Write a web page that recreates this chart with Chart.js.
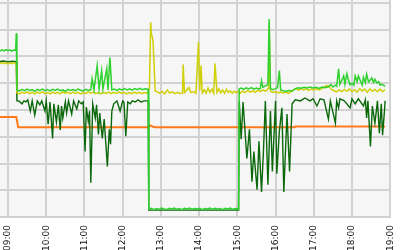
<!DOCTYPE html>
<html><head><meta charset="utf-8">
<script src="https://cdn.jsdelivr.net/npm/chart.js@4/dist/chart.umd.min.js"></script>
<style>html,body{margin:0;padding:0;background:#fff;overflow:hidden;width:400px;height:250px}canvas{display:block}</style>
</head><body>
<canvas id="c" width="409" height="259"></canvas>
<script>
const tickLabels = ["09:00","10:00","11:00","12:00","13:00","14:00","15:00","16:00","17:00","18:00","19:00"];
const axisStart = "08:47";
const axisEnd = "19:00";

const limePoints = [
["08:47",62.0],["08:51",62.5],["08:54",62.1],["08:57",62.6],["09:00",62.2],["09:03",62.5],["09:06",62.0],["09:09",62.4],["09:12",62.3],["09:13",68.7],
["09:14",47.5],["09:18",47.1],["09:22",47.7],["09:26",47.2],["09:30",47.8],["09:34",47.3],["09:38",47.6],["09:42",47.0],["09:46",47.7],["09:50",47.3],
["09:54",47.8],["09:58",47.2],["10:02",47.6],["10:06",47.1],["10:10",47.7],["10:14",47.3],["10:18",47.8],["10:22",47.2],["10:26",47.5],["10:30",47.0],
["10:34",47.7],["10:38",47.3],["10:42",47.6],["10:46",47.2],["10:50",47.8],["10:54",47.4],["10:58",47.1],["11:02",47.7],["11:06",47.3],["11:10",47.6],
["11:12",51.7],["11:15",47.5],["11:20",56.6],["11:23",47.9],["11:27",54.7],["11:29",47.9],["11:35",55.5],["11:37",47.5],["11:40",59.6],["11:43",47.5],
["11:47",47.8],["11:51",47.3],["11:55",47.9],["11:59",47.4],["12:03",48.0],["12:07",47.5],["12:11",47.9],["12:15",47.4],["12:19",48.0],["12:23",47.6],
["12:27",48.1],["12:31",47.6],["12:35",47.9],["12:40",47.8],["12:41",3.0],["12:45",3.3],["12:49",2.8],["12:53",3.2],["12:57",2.9],["13:01",3.4],
["13:05",3.0],["13:09",2.8],["13:13",3.3],["13:17",3.0],["13:21",3.4],["13:25",2.9],["13:29",3.2],["13:33",2.8],["13:37",3.3],["13:41",3.0],
["13:45",3.4],["13:49",2.9],["13:53",3.2],["13:57",3.0],["14:01",3.3],["14:05",2.8],["14:09",3.2],["14:13",3.0],["14:17",3.4],["14:21",2.9],
["14:25",3.3],["14:29",3.0],["14:33",3.2],["14:37",2.8],["14:41",3.3],["14:45",3.0],["14:49",3.4],["14:53",2.9],["14:57",3.2],["15:02",3.0],
["15:03",47.9],["15:06",48.2],["15:10",47.7],["15:14",48.3],["15:18",47.9],["15:22",48.4],["15:26",47.8],["15:30",48.2],["15:34",47.9],["15:36",48.0],
["15:38",50.9],["15:40",48.5],["15:44",49.0],["15:48",49.5],["15:50",74.0],["15:52",48.0],["15:55",47.6],["15:59",47.9],["16:03",48.3],["16:06",54.7],
["16:08",47.5],["16:12",47.2],["16:17",47.0],["16:21",47.3],["16:26",47.1],["16:31",48.0],["16:35",48.3],["16:40",48.1],["16:45",48.5],["16:50",48.2],
["16:54",48.6],["16:59",48.2],["17:04",48.5],["17:08",48.1],["17:13",48.6],["17:18",48.3],["17:23",48.7],["17:27",49.5],["17:30",48.6],["17:34",49.3],
["17:36",48.9],["17:39",55.4],["17:41",49.6],["17:44",51.0],["17:47",52.8],["17:49",49.6],["17:52",53.6],["17:54",51.6],["17:57",49.4],["18:00",50.0],
["18:03",49.3],["18:05",52.8],["18:08",50.6],["18:10",52.8],["18:13",51.0],["18:16",49.3],["18:18",52.2],["18:21",50.2],["18:23",53.4],["18:26",50.5],
["18:29",51.2],["18:31",52.0],["18:34",50.3],["18:36",51.5],["18:39",50.1],["18:42",50.6],["18:44",49.3],["18:47",49.6],["18:51",49.0],["18:52",49.2]
];

const yellowPoints = [
["08:47",57.4],["08:51",57.7],["08:54",57.3],["08:57",57.6],["09:00",57.2],["09:03",57.6],["09:06",57.3],["09:09",57.7],["09:12",57.4],["09:13",57.3],
["09:14",46.4],["09:18",46.0],["09:22",46.7],["09:26",46.2],["09:30",46.8],["09:34",46.1],["09:38",46.6],["09:42",46.0],["09:46",46.7],["09:50",46.3],
["09:54",46.8],["09:58",46.1],["10:02",46.5],["10:06",46.0],["10:10",46.7],["10:14",46.2],["10:18",46.6],["10:22",46.0],["10:26",46.8],["10:30",46.3],
["10:34",46.6],["10:38",46.1],["10:42",46.7],["10:46",46.2],["10:50",46.6],["10:54",46.0],["10:58",46.5],["11:02",46.2],["11:06",46.8],["11:10",46.3],
["11:14",46.7],["11:18",46.1],["11:22",46.5],["11:26",46.0],["11:30",46.6],["11:34",46.2],["11:38",46.7],["11:42",46.1],["11:46",46.6],["11:50",46.2],
["11:54",46.8],["11:58",46.3],["12:02",46.6],["12:06",46.0],["12:10",46.5],["12:14",46.1],["12:18",46.7],["12:22",46.2],["12:26",46.6],["12:30",46.1],
["12:34",46.5],["12:38",46.3],["12:42",47.9],["12:44",72.8],["12:45",68.7],["12:47",66.8],["12:48",64.2],["12:51",47.2],["12:54",46.8],["12:58",46.3],
["13:02",46.9],["13:06",46.0],["13:10",47.5],["13:14",46.3],["13:18",46.8],["13:22",46.1],["13:26",46.6],["13:30",46.2],["13:34",46.4],["13:35",57.0],
["13:37",46.5],["13:41",47.6],["13:44",48.4],["13:47",46.5],["13:51",46.9],["13:55",46.2],["13:59",65.4],["14:01",47.2],["14:03",56.6],["14:05",46.4],
["14:08",47.6],["14:11",46.3],["14:14",48.2],["14:17",46.5],["14:20",47.8],["14:23",46.3],["14:25",57.4],["14:28",46.6],["14:31",47.9],["14:34",46.4],
["14:37",47.5],["14:40",46.2],["14:43",47.7],["14:46",46.6],["14:49",47.2],["14:52",46.3],["14:55",47.0],["14:58",46.5],["15:01",46.9],["15:04",46.2],
["15:08",47.0],["15:12",46.5],["15:16",47.3],["15:20",46.7],["15:24",47.2],["15:28",46.6],["15:32",47.4],["15:36",46.9],["15:40",47.5],["15:44",47.0],
["15:47",47.6],["15:49",48.0],["15:50",71.7],["15:52",47.0],["15:56",46.6],["16:00",46.9],["16:04",46.4],["16:08",46.8],["16:12",46.3],["16:16",46.7],
["16:20",46.2],["16:24",46.8],["16:28",47.5],["16:32",47.9],["16:36",47.4],["16:40",48.0],["16:44",47.5],["16:48",47.9],["16:52",47.3],["16:56",47.8],
["17:00",47.4],["17:04",48.0],["17:08",47.5],["17:12",47.9],["17:16",48.5],["17:20",49.1],["17:24",48.9],["17:28",47.6],["17:32",47.2],["17:36",46.8],
["17:40",47.5],["17:44",46.9],["17:48",47.7],["17:52",47.0],["17:56",47.9],["18:00",46.8],["18:04",47.6],["18:08",46.7],["18:12",48.0],["18:16",47.1],
["18:20",47.8],["18:24",46.6],["18:28",47.9],["18:32",47.0],["18:36",47.7],["18:40",46.8],["18:44",47.8],["18:48",46.9],["18:52",47.6]
];

const darkPoints = [
["08:47",58.1],["08:53",58.3],["09:00",58.0],["09:06",58.2],["09:13",58.1],["09:14",43.4],["09:17",43.4],["09:22",42.3],["09:25",43.4],["09:28",43.0],
["09:31",43.8],["09:35",39.6],["09:38",43.4],["09:42",38.1],["09:46",43.4],["09:50",41.9],["09:53",43.4],["09:58",39.6],["10:00",43.4],["10:03",34.7],
["10:06",43.0],["10:10",29.4],["10:12",42.3],["10:16",35.5],["10:19",41.9],["10:22",32.5],["10:24",41.5],["10:26",37.0],["10:30",43.0],["10:32",38.9],
["10:35",43.4],["10:40",38.5],["10:43",43.4],["10:48",40.4],["10:51",43.4],["10:55",42.3],["10:58",43.0],["11:01",24.5],["11:03",41.1],["11:06",35.8],
["11:08",39.6],["11:10",12.8],["11:13",42.3],["11:17",37.0],["11:19",41.9],["11:22",30.9],["11:24",38.9],["11:28",29.4],["11:31",36.6],["11:36",18.9],
["11:39",32.8],["11:41",27.2],["11:43",39.6],["11:46",42.3],["11:51",43.4],["11:56",39.6],["12:00",43.4],["12:02",43.0],["12:05",30.2],["12:08",43.0],
["12:12",42.3],["12:15",43.4],["12:20",43.0],["12:24",43.8],["12:29",43.0],["12:34",43.4],["12:40",43.4],["12:41",2.6],["13:30",2.6],["14:20",2.6],
["15:02",2.6],["15:03",43.4],["15:06",29.1],["15:09",43.0],["15:15",21.9],["15:19",32.8],["15:23",13.2],["15:26",24.5],["15:31",10.2],["15:34",28.3],
["15:38",9.4],["15:41",24.5],["15:44",43.4],["15:48",12.1],["15:52",39.6],["15:55",17.0],["16:00",43.4],["16:02",16.2],["16:06",32.1],["16:10",40.8],
["16:13",9.4],["16:18",38.5],["16:22",17.0],["16:26",42.3],["16:31",43.8],["16:39",43.4],["16:46",44.5],["16:54",43.4],["16:59",44.2],["17:05",41.5],
["17:10",44.2],["17:16",43.8],["17:23",36.6],["17:26",43.4],["17:34",35.1],["17:36",43.4],["17:39",40.8],["17:41",44.2],["17:48",43.4],["17:57",40.8],
["18:00",44.2],["18:05",42.3],["18:10",44.2],["18:18",41.5],["18:21",43.8],["18:23",37.0],["18:25",43.4],["18:29",26.4],["18:32",41.5],["18:36",35.1],
["18:40",43.4],["18:43",31.3],["18:46",42.3],["18:48",30.6],["18:51",39.6],["18:52",43.4]
];

const orangePoints = [
["08:47",37.4],["09:13",37.4],["09:16",33.6],["12:40",33.6],["12:43",34.2],["12:47",33.8],["12:51",33.6],["16:30",33.6],["16:31",33.8],["18:52",33.8]
];

function toHours(s){const p=s.split(':').map(Number);return p[0]+p[1]/60;}
function pts(a){return a.map(d=>({x:toHours(d[0]),y:d[1]}));}
const tickValues = tickLabels.map(toHours);

const bgPlugin = {
  id:'bg',
  beforeDraw(chart){
    const {ctx,chartArea:a}=chart;
    ctx.save();ctx.fillStyle='#f6f6f6';ctx.fillRect(a.left,a.top,a.right-a.left,a.bottom-a.top);ctx.restore();
  }
};

new Chart(document.getElementById('c'),{
  type:'line',
  data:{datasets:[
    {data:pts(limePoints),borderColor:'#2ed12e',borderWidth:1.5},
    {data:pts(yellowPoints),borderColor:'#cfcf0a',borderWidth:1.5},
    {data:pts(darkPoints),borderColor:'#0b680b',borderWidth:1.4},
    {data:pts(orangePoints),borderColor:'#ff7a1a',borderWidth:2}
  ]},
  options:{
    responsive:false,animation:false,
    layout:{padding:{left:0,right:0,top:0,bottom:0}},
    elements:{point:{radius:0},line:{tension:0}},
    plugins:{legend:{display:false},tooltip:{enabled:false}},
    scales:{
      x:{type:'linear',min:toHours(axisStart)+0.0073,max:toHours(axisEnd),
        afterBuildTicks(s){s.ticks=tickValues.map(v=>({value:v}));},
        grid:{color:'#d2d2d2',lineWidth:2,drawTicks:false},
        border:{color:'#d2d2d2',width:2},
        ticks:{minRotation:90,maxRotation:90,padding:8,color:'#111',autoSkip:false,
          font:{family:'DejaVu Sans',size:9},
          callback:(v)=>{const i=tickValues.findIndex(t=>Math.abs(t-v)<1e-6);return i>=0?tickLabels[i]:'';}}
      },
      y:{type:'linear',min:0,max:81.1,display:true,
        afterBuildTicks(s){s.ticks=[0,10,20,30,40,50,60,70,80].map(v=>({value:v}));},
        grid:{color:'#d2d2d2',lineWidth:2,drawTicks:false},
        border:{display:false},
        ticks:{display:false}
      }
    }
  },
  plugins:[bgPlugin]
});
</script>
</body></html>
